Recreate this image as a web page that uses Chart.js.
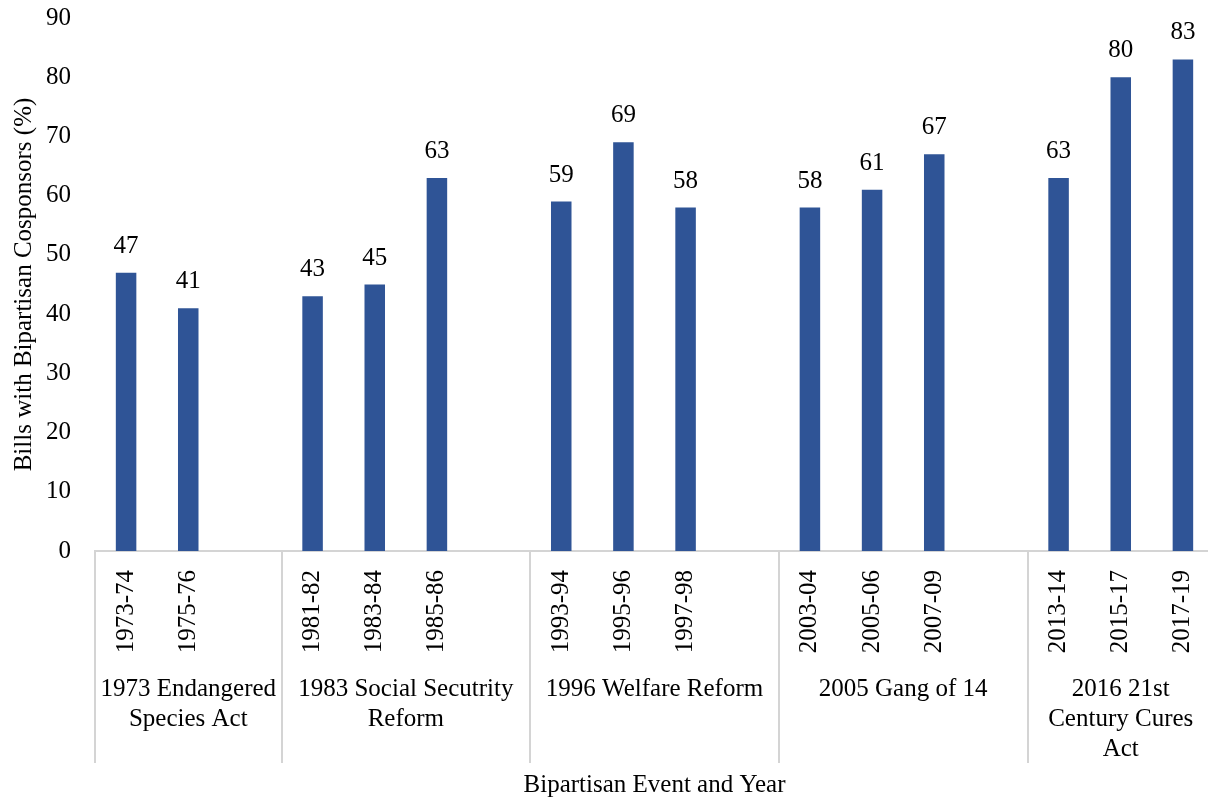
<!DOCTYPE html>
<html>
<head>
<meta charset="utf-8">
<script src="https://cdn.jsdelivr.net/npm/chart.js@4.4.1/dist/chart.umd.min.js"></script>
<style>
    html, body { margin: 0; padding: 0; background: #fff; overflow: hidden; }
    #wrap { width: 1216px; height: 800px; }
</style>
</head>
<body>
<div id="wrap"><canvas id="bipartisanChart" width="1216" height="800"></canvas></div>
<script>
// congress periods, blank slots separate the events
const periods = [
    "1973-74", "1975-76", "",
    "1981-82", "1983-84", "1985-86", "",
    "1993-94", "1995-96", "1997-98", "",
    "2003-04", "2005-06", "2007-09", "",
    "2013-14", "2015-17", "2017-19",
];
const bipartisanPct = [
    47, 41, null,
    43, 45, 63, null,
    59, 69, 58, null,
    58, 61, 67, null,
    63, 80, 83,
];
// event groups: first slot index and label lines
const groupStart = [0, 3, 7, 11, 15];
const groupEnd = [3, 7, 11, 15, 18];
const groupLabels = [
    ["1973 Endangered", "Species Act"],
    ["1983 Social Secutrity", "Reform"],
    ["1996 Welfare Reform"],
    ["2005 Gang of 14"],
    ["2016 21st", "Century Cures", "Act"],
];
const yTicks = [0, 10, 20, 30, 40, 50, 60, 70, 80, 90];

const FONT = "'Liberation Serif', 'Times New Roman', serif";
const lineColor = "#d4d4d4";

const valueLabels = {
    id: "valueLabels",
    afterDatasetsDraw(chart) {
        const ctx = chart.ctx;
        const meta = chart.getDatasetMeta(0);
        ctx.save();
        ctx.font = "25px " + FONT;
        ctx.fillStyle = "#000";
        ctx.textAlign = "center";
        ctx.textBaseline = "alphabetic";
        meta.data.forEach((bar, i) => {
            const v = bipartisanPct[i];
            if (v === null) return;
            ctx.fillText(String(v), bar.x, bar.y - 20);
        });
        ctx.restore();
    },
};

const eventGroups = {
    id: "eventGroups",
    afterDraw(chart) {
        const ctx = chart.ctx;
        const x = chart.scales.x;
        const axisY = chart.chartArea.bottom;
        ctx.save();
        ctx.strokeStyle = lineColor;
        ctx.lineWidth = 2;
        groupStart.forEach((s) => {
            const px = Math.round(x.getPixelForValue(s - 0.5));
            ctx.beginPath();
            ctx.moveTo(px, axisY);
            ctx.lineTo(px, axisY + 212);
            ctx.stroke();
        });
        ctx.font = "25px " + FONT;
        ctx.fillStyle = "#000";
        ctx.textAlign = "center";
        ctx.textBaseline = "middle";
        groupLabels.forEach((lines, g) => {
            const cx = (x.getPixelForValue(groupStart[g] - 0.5) + x.getPixelForValue(groupEnd[g] - 0.5)) / 2;
            lines.forEach((txt, k) => {
                ctx.fillText(txt, cx, axisY + 138 + k * 30);
            });
        });
        ctx.restore();
    },
};

const ctx = document.getElementById("bipartisanChart").getContext("2d");
new Chart(ctx, {
    type: "bar",
    data: {
        labels: periods,
        datasets: [
            {
                data: bipartisanPct,
                backgroundColor: "#2F5496",
                categoryPercentage: 0.33,
                barPercentage: 1,
            },
        ],
    },
    options: {
        responsive: false,
        animation: false,
        layout: { padding: { top: 18, right: 2, bottom: 0, left: 0 } },
        plugins: {
            legend: { display: false },
            tooltip: { enabled: false },
        },
        scales: {
            x: {
                grid: { display: false, drawTicks: false },
                border: { display: true, color: lineColor, width: 2 },
                ticks: {
                    color: "#000",
                    font: { family: FONT, size: 25 },
                    minRotation: 90,
                    maxRotation: 90,
                    autoSkip: false,
                    padding: 19,
                },
                title: {
                    display: true,
                    text: "Bipartisan Event and Year",
                    color: "#000",
                    font: { family: FONT, size: 25 },
                    padding: { top: 0, bottom: 0 },
                },
                afterFit(scale) {
                    scale.height = 249;
                    scale.paddingLeft = 0;
                    scale.paddingRight = 0;
                },
            },
            y: {
                min: 0,
                max: 90,
                grid: { display: false, drawTicks: false },
                border: { display: false },
                afterBuildTicks(scale) {
                    scale.ticks = yTicks.map((v) => ({ value: v }));
                },
                ticks: {
                    color: "#000",
                    font: { family: FONT, size: 25 },
                    padding: 24,
                },
                title: {
                    display: true,
                    text: "Bills with Bipartisan Cosponsors (%)",
                    color: "#000",
                    font: { family: FONT, size: 25 },
                    padding: { top: 9, bottom: 0 },
                },
                afterFit(scale) {
                    scale.width = 95;
                    scale.paddingTop = 0;
                    scale.paddingBottom = 0;
                },
            },
        },
    },
    plugins: [valueLabels, eventGroups],
});
</script>
</body>
</html>
